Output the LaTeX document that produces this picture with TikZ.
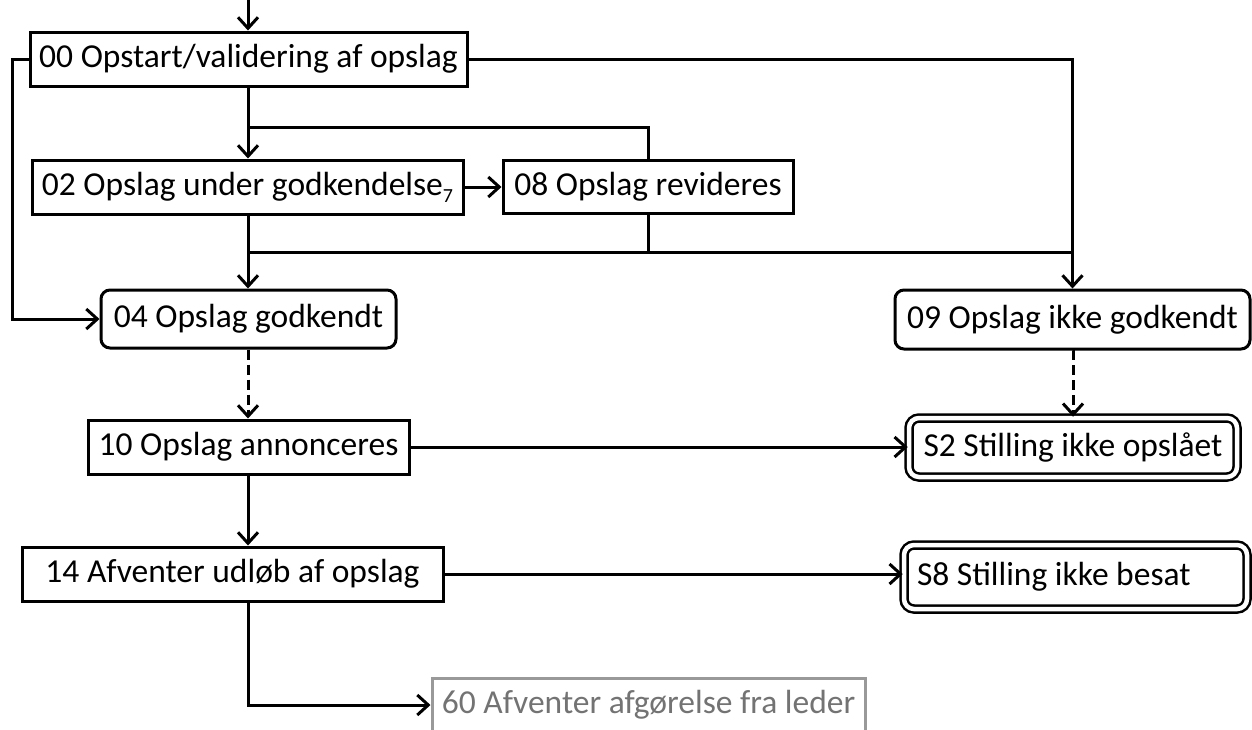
\documentclass[tikz,border=0pt]{standalone}
\usepackage{fontspec}
\setmainfont{Carlito}
\usetikzlibrary{arrows.meta,calc}
\tikzset{
  box/.style={draw, line width=3pt, inner sep=0pt, font=\fontsize{33.5}{40}\selectfont, text=black},
  rbox/.style={box, rounded corners=9pt},
  fbox/.style={box, double, double distance=4.5pt, line width=2.5pt, rounded corners=10pt},
  gbox/.style={box, draw=black!40, text=black!55},
  conn/.style={line width=3pt},
  arr/.style={conn, -{Straight Barb[length=11pt,width=20pt,line width=3pt]}},
  darr/.style={arr, dash pattern=on 10pt off 5pt},
}
\begin{document}
\begin{tikzpicture}[x=1pt,y=-1pt]
\useasboundingbox (0,0) rectangle (1252,729);
\clip (0,0) rectangle (1252,729);
\fill[white] (0,0) rectangle (1252,729);

\node[box, minimum width=437pt, minimum height=54pt] (n00) at (248.5,59) {00 Opstart/validering af opslag};
\node[box, minimum width=431pt, minimum height=54pt] (n02) at (247.5,187) {02 Opslag under godkendelse{\fontsize{20}{20}\selectfont\raisebox{-7pt}{7}}};
\node[box, minimum width=290pt, minimum height=53pt] (n08) at (648,187) {08 Opslag revideres};
\node[rbox, minimum width=295pt, minimum height=58pt] (n04) at (248.5,319) {04 Opslag godkendt};
\node[rbox, minimum width=355pt, minimum height=59pt] (n09) at (1072.5,319.5) {09 Opslag ikke godkendt};
\node[box, minimum width=321pt, minimum height=54pt] (n10) at (248.5,447) {10 Opslag annonceres};
\node[fbox, minimum width=328pt, minimum height=59pt] (s2) at (1073,447.5) {S2 Stilling ikke opslået};
\node[box, minimum width=421pt, minimum height=54pt] (n14) at (232.5,574) {14 Afventer udløb af opslag};
\node[fbox, minimum width=343pt, minimum height=64pt] (s8) at (1075.5,577) {\makebox[317pt][l]{S8 Stilling ikke besat}};
\node[gbox, minimum width=433pt, minimum height=54pt] (n60) at (648.5,705) {60 Afventer afgørelse fra leder};

\coordinate (top) at (248,0);
\coordinate (L) at (12,59);
\coordinate (j1) at (248,127);
\coordinate (j2) at (248,252);
\coordinate (c14) at (248,601);

\draw[arr] (top) -- (top |- n00.north);
\draw[arr] (n00.west) -- (L) |- (n04.west);
\draw[arr] (n00.south -| j1) -- (j1 |- n02.north);
\draw[conn] (n08.north) -- (n08.north |- j1) -- (j1);
\draw[arr] (n02.east) -- (n08.west);
\draw[arr] (n02.south -| j2) -- (j2 |- n04.north);
\draw[conn] (n08.south) -- (n08.south |- j2) -- (j2);
\draw[conn] (j2) -- (j2 -| n09.north);
\draw[arr] (n00.east) -| (n09.north);
\draw[darr] (n04.south -| j2) -- (j2 |- n10.north);
\draw[darr] (n09.south) -- (n09.south -| s2.north) -- (s2.north);
\draw[arr] (n10.east) -- (n10.east -| s2.west);
\draw[arr] (n10.south -| j2) -- (j2 |- n14.north);
\draw[arr] (n14.east) -- (n14.east -| s8.west);
\draw[arr] (n14.south -| c14) |- (n60.west);
\end{tikzpicture}
\end{document}
